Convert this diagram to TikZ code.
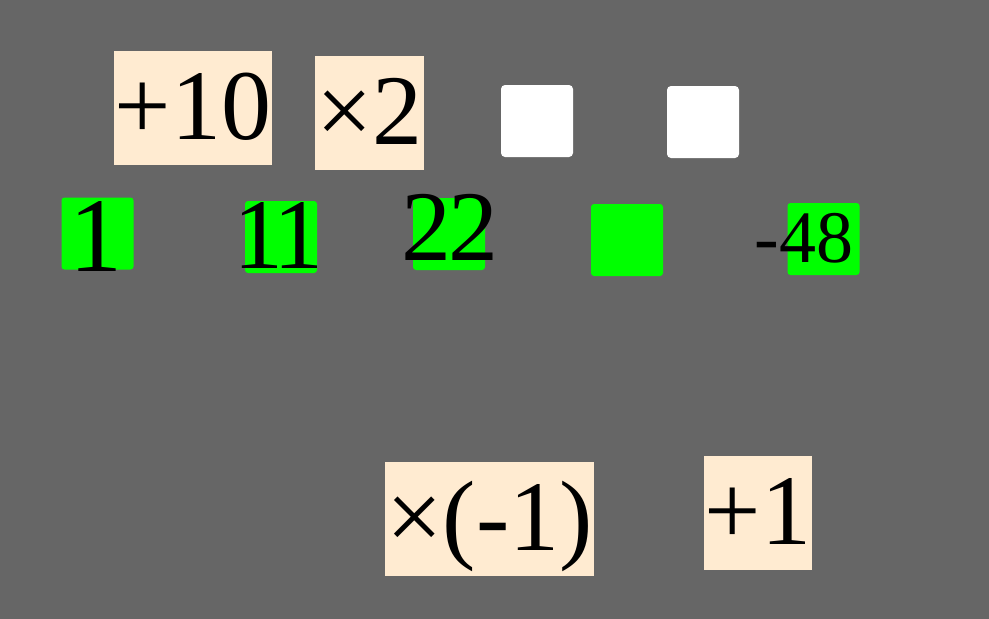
\documentclass[tikz,border=0pt]{standalone}
\usepackage{fontspec}
\setmainfont{Liberation Serif}
\usepackage{tikz}
\definecolor{bggray}{HTML}{666666}
\definecolor{opbeige}{HTML}{FFEBD1}
\definecolor{cellgreen}{HTML}{00FF00}
\tikzstyle{op} = [rectangle, fill=opbeige, inner xsep=1pt, inner ysep=0pt,
    minimum height=114pt, text height=62pt, text depth=0pt,
    font=\fontsize{100}{100}\selectfont]
\tikzstyle{cell} = [rectangle, rounded corners=3pt, fill=cellgreen,
    minimum size=72pt, inner sep=0pt]
\tikzstyle{slot} = [rectangle, rounded corners=4pt, fill=white,
    minimum size=72pt, inner sep=0pt]
\tikzstyle{num} = [anchor=base, inner sep=0pt,
    font=\fontsize{100}{100}\selectfont]

\begin{document}
\begin{tikzpicture}[x=1pt, y=-1pt]
        \fill[bggray] (0,0) rectangle (989,619);

        % operations
        \node (addten) [op] at (193,108) {+10};
        \node (double) [op] at (369.5,113) {×2};
        \node (negate) [op] at (489.5,519) {×(-1)};
        \node (addone) [op, minimum width=108pt] at (758,513) {+1};

        % empty slots
        \node (slota) [slot] at (537,121) {};
        \node (slotb) [slot] at (703,122) {};

        % number cells
        \node (cella) [cell] at (97.5,233.5) {};
        \node (cellb) [cell] at (281,237) {};
        \node (cellc) [cell] at (449,234) {};
        \node (celld) [cell] at (627,240) {};
        \node (celle) [cell] at (823.5,239) {};

        \node (vala) [num, font=\fontsize{106}{106}\selectfont] at (95.5,271) {1};
        \node (valb) [num] at (278,268) {1\kern-10pt 1};
        \node (valc) [num] at (450,260) {2\kern-3pt 2};
        \node (vale) [num, font=\fontsize{74}{74}\selectfont] at (804,262) {-48};
    \end{tikzpicture}
\end{document}
